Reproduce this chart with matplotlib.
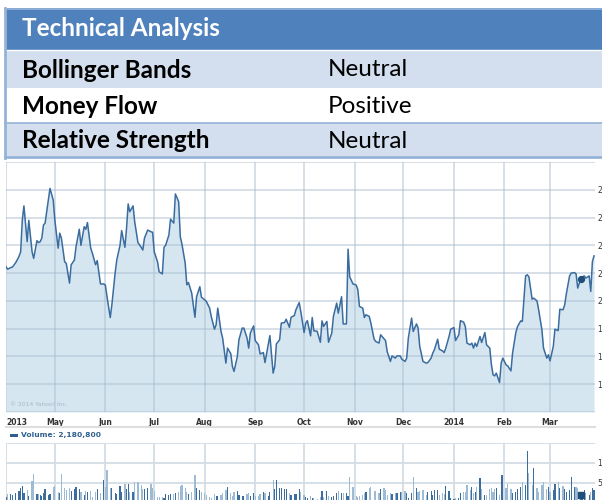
import numpy as np
import pandas as pd
import matplotlib
matplotlib.use('Agg')
import matplotlib.pyplot as plt
from matplotlib.patches import Rectangle
from matplotlib.lines import Line2D

# --- data ---
table_rows = ['Bollinger Bands', 'Money Flow', 'Relative Strength']
table_vals = ['Neutral', 'Positive', 'Neutral']

start = pd.Timestamp('2013-04-01')
end = start + pd.Timedelta(days=361.6)

# days since 2013-04-01 for each close
days = [0, 1, 3, 4, 6, 8, 9, 10, 11, 13,
        14, 16, 17, 19, 20, 21, 22, 23, 24, 26,
        27, 29, 30, 32, 33, 34, 36, 37, 39, 40,
        42, 43, 45, 46, 48, 49, 50, 52, 53, 55,
        56, 58, 60, 61, 62, 64, 65, 67, 68, 70,
        71, 73, 74, 75, 76, 78, 79, 81, 83, 84,
        85, 87, 89, 90, 91, 93, 94, 96, 97, 98,
        100, 101, 103, 104, 106, 107, 108, 110, 111, 112,
        114, 116, 117, 119, 120, 122, 123, 125, 126, 128,
        129, 130, 132, 133, 135, 136, 138, 139, 140, 142,
        143, 145, 146, 148, 149, 150, 152, 153, 155, 156,
        158, 159, 161, 162, 164, 165, 166, 168, 169, 171,
        172, 174, 175, 177, 178, 180, 181, 183, 184, 185,
        187, 188, 189, 191, 193, 194, 195, 197, 198, 200,
        201, 203, 204, 206, 207, 209, 210, 211, 213, 215,
        216, 217, 219, 220, 221, 223, 224, 226, 227, 229,
        230, 232, 233, 234, 236, 237, 239, 240, 242, 243,
        245, 246, 247, 249, 250, 252, 253, 254, 256, 258,
        259, 261, 262, 263, 265, 266, 268, 269, 270, 272,
        273, 275, 276, 278, 279, 281, 282, 283, 285, 286,
        287, 288, 289, 291, 292, 294, 295, 297, 298, 299,
        300, 301, 303, 304, 305, 307, 308, 310, 311, 313,
        314, 316, 317, 319, 320, 321, 323, 324, 326, 327,
        329, 330, 332, 333, 334, 336, 337, 339, 340, 342,
        343, 344, 346, 347, 349, 350, 351, 353, 354, 355,
        356, 358, 359, 360, 361]

prices = [21.23, 21.14, 21.20, 21.22, 21.38, 21.60, 21.77, 22.90, 23.42, 22.13,
          22.90, 21.77, 21.53, 22.17, 22.10, 22.13, 22.26, 22.73, 22.80, 23.63,
          24.05, 23.63, 22.90, 21.90, 22.44, 22.26, 21.41, 21.35, 20.64, 21.30,
          21.47, 21.95, 22.58, 22.00, 22.67, 22.58, 22.82, 21.90, 21.72, 21.30,
          21.45, 20.61, 20.61, 20.57, 20.15, 19.40, 19.86, 21.00, 21.47, 22.00,
          22.53, 21.93, 22.61, 23.49, 23.21, 23.42, 22.85, 22.10, 21.93, 21.83,
          22.26, 22.55, 22.49, 22.47, 21.77, 21.41, 21.05, 20.97, 21.93, 22.00,
          22.37, 22.94, 22.80, 23.85, 23.57, 22.31, 22.05, 21.36, 20.58, 20.66,
          20.28, 19.41, 20.15, 20.51, 20.13, 20.04, 19.98, 19.74, 19.44, 18.98,
          19.14, 19.74, 18.90, 18.66, 17.76, 18.30, 18.10, 17.64, 17.46, 17.99,
          18.60, 19.02, 19.02, 18.66, 18.30, 18.84, 19.10, 18.57, 18.42, 18.09,
          18.14, 17.78, 18.42, 18.75, 17.40, 17.64, 18.45, 18.60, 19.20, 19.22,
          19.34, 19.05, 19.41, 19.47, 19.68, 19.94, 19.61, 18.86, 19.20, 19.29,
          18.74, 19.40, 18.92, 18.91, 18.51, 19.28, 19.08, 19.26, 18.51, 18.84,
          19.44, 19.92, 19.56, 20.15, 19.17, 19.17, 21.86, 20.87, 20.61, 20.57,
          20.40, 19.80, 19.74, 19.40, 19.50, 19.44, 19.20, 18.62, 18.54, 18.48,
          18.78, 18.64, 18.57, 18.18, 17.82, 18.02, 17.94, 18.02, 18.02, 17.90,
          17.82, 17.94, 18.66, 19.38, 18.90, 19.17, 19.02, 18.36, 17.82, 17.76,
          17.78, 17.94, 18.12, 18.24, 18.62, 18.26, 18.20, 18.14, 18.30, 18.72,
          18.98, 19.04, 18.57, 18.78, 19.29, 19.23, 19.07, 18.48, 18.42, 18.48,
          18.30, 18.48, 18.36, 18.72, 18.50, 18.86, 18.42, 18.30, 17.70, 17.34,
          17.30, 17.40, 17.06, 17.76, 17.94, 17.70, 17.66, 17.48, 18.12, 18.86,
          19.07, 19.28, 19.26, 20.90, 20.94, 20.87, 20.06, 20.10, 20.00, 19.68,
          18.96, 18.30, 17.94, 18.06, 17.84, 18.36, 18.98, 18.93, 19.70, 19.68,
          19.86, 20.25, 20.90, 21.00, 21.02, 20.97, 20.46, 20.82, 20.87, 20.90,
          20.82, 20.90, 20.34, 21.41, 21.62]

# volume in millions, one per close
volumes = [1.58, 2.17, 2.17, 2.0, 2.42, 3.0, 3.67, 4.33, 2.42, 3.25,
           1.83, 5.5, 7.17, 2.17, 2.17, 2.0, 1.83, 2.42, 3.5, 2.0,
           2.17, 4.08, 4.25, 2.83, 2.42, 7.25, 3.67, 3.25, 3.83, 3.0,
           3.5, 4.0, 3.5, 2.83, 2.0, 3.0, 2.83, 3.0, 1.58, 2.83,
           3.5, 2.42, 5.75, 4.0, 8.25, 3.67, 3.67, 2.42, 2.17, 4.33,
           2.67, 4.67, 3.5, 4.67, 2.83, 2.67, 5.33, 5.17, 4.5, 3.5,
           3.5, 3.67, 4.83, 3.67, 3.0, 1.58, 1.58, 1.5, 1.33, 2.17,
           2.0, 2.17, 2.17, 2.42, 2.83, 4.33, 4.5, 3.67, 2.83, 2.17,
           2.67, 7.0, 3.67, 3.25, 2.83, 2.42, 2.0, 1.58, 1.17, 2.17,
           1.83, 1.75, 2.0, 2.42, 3.25, 3.92, 2.42, 1.83, 2.83, 3.0,
           2.0, 1.83, 1.83, 2.17, 2.58, 1.83, 2.42, 1.67, 1.83, 2.17,
           2.83, 2.42, 1.83, 2.67, 5.75, 3.5, 5.75, 3.83, 3.67, 3.5,
           3.5, 2.42, 2.0, 2.17, 2.33, 3.5,
           2.83, 2.0, 1.58, 1.33, 1.83, 1.33, 1.17, 1.0, 1.5, 3.0, 1.58,
           3.0, 1.83, 1.58, 1.83, 2.42, 3.0, 2.42, 2.42, 2.42, 1.83,
           6.42, 4.08, 1.83, 1.58, 1.83, 2.0, 2.58, 2.83, 3.67, 3.92,
           3.0, 3.0, 2.58, 3.5, 3.67, 3.25, 2.0, 2.42, 2.25, 2.42,
           2.42, 2.83, 2.67, 3.0, 2.42, 1.17, 2.42, 6.58, 3.67, 2.83,
           3.0, 3.25, 2.0, 2.83, 3.0, 2.0, 3.25, 3.25, 2.0, 2.42, 2.2,
           4.33, 3.0, 1.17, 1.0, 1.17, 1.33, 2.42, 2.83, 2.67, 4.5,
           3.25, 4.08, 2.42, 2.83, 4.08, 6.33, 3.5, 2.0, 2.0, 3.5,
           3.83, 2.83, 3.5, 3.83, 2.0, 7.0, 7.0, 3.83, 4.67, 3.5,
           2.58, 2.83, 3.5, 4.08, 5.17, 4.5, 13.0, 7.42, 4.5, 8.67,
           3.67, 2.83, 4.5, 5.33, 3.5, 4.08, 2.83, 3.25, 4.67, 5.17,
           3.83, 4.33, 3.5, 2.83, 3.25, 6.58, 4.08, 4.08, 3.83, 2.83,
           2.42, 3.25, 2.42, 2.0, 2.83, 3.67, 3.25]

month_ticks = ['2013-04-01', '2013-05-01', '2013-06-01', '2013-07-01', '2013-08-01',
               '2013-09-01', '2013-10-01', '2013-11-01', '2013-12-01', '2014-01-01',
               '2014-02-01', '2014-03-01']
month_labels = ['2013', 'May', 'Jun', 'Jul', 'Aug', 'Sep', 'Oct', 'Nov', 'Dec',
                '2014', 'Feb', 'Mar']
event_day = 353
event_price = 20.80

price_ticks = [16, 17, 18, 19, 20, 21, 22, 23, 24, 25]
vol_ticks = [0, 5, 10, 15]
vol_labels = ['', '5M', '10M', '']

dates = start + pd.to_timedelta(days, unit='D')
month_dates = pd.to_datetime(month_ticks)

W, H = 602, 500
fig = plt.figure(figsize=(6.02, 5.0), dpi=100)


def fx(px):
    return px / W


def fy(py):
    return 1 - py / H


# --- table on top ---
hdr = '#4F81BD'
alt = '#D3DFEE'
border = '#95B3D7'
fig.add_artist(Rectangle((fx(5), fy(50)), fx(597), 42 / H, color=hdr, lw=0))
row_edges = [50, 88, 123, 157]
row_fill = [alt, 'white', alt]
for i in range(3):
    top, bot = row_edges[i], row_edges[i + 1]
    fig.add_artist(Rectangle((fx(5), fy(bot)), fx(597), (bot - top) / H,
                             color=row_fill[i], lw=0))
    fig.text(fx(22), fy((top + bot) / 2 + 1), table_rows[i], fontsize=17.5,
             fontweight='bold', family='Lato', va='center', color='black')
    fig.text(fx(328), fy((top + bot) / 2 + 1), table_vals[i], fontsize=17.5,
             family='Lato', va='center', color='black')
fig.text(fx(22), fy(29), 'Technical Analysis', fontsize=17.5, fontweight='bold',
         family='Lato', va='center', color='white')
fig.add_artist(Line2D([fx(5), 1], [fy(50), fy(50)], color='white', lw=1))
fig.add_artist(Line2D([fx(5), 1], [fy(123), fy(123)], color=border, lw=1.2))
fig.add_artist(Line2D([fx(5), 1], [fy(157), fy(157)], color=border, lw=2))
fig.add_artist(Line2D([fx(5), fx(5)], [fy(8), fy(158)], color=border, lw=2))
fig.add_artist(Line2D([fx(5), 1], [fy(8.5), fy(8.5)], color=border, lw=1.2))

# --- price chart ---
grid_c = '#d3dce5'
line_c = '#3a6c9f'
fill_c = '#d6e6f1'
tick_c = '#333333'

ax = fig.add_axes([fx(6), fy(412), (595 - 6) / W, 250 / H])
ax.fill_between(dates, prices, 16, color=fill_c, lw=0, zorder=1)
ax.plot(dates, prices, color=line_c, lw=1.1, zorder=3)
ax.scatter([start + pd.Timedelta(days=event_day)], [event_price], s=18,
           color='#1f4e79', zorder=4)
ax.set_xlim(start, end)
ax.set_ylim(16, 25)
ax.set_xticks(month_dates)
ax.set_xticklabels(month_labels)
ax.set_yticks(price_ticks)
ax.set_yticklabels(['' if t in (16, 25) else str(t) for t in price_ticks])
ax.yaxis.tick_right()
ax.tick_params(length=0, labelsize=5.5, labelcolor=tick_c, pad=1.5)
ax.tick_params(axis='x', pad=4)
for lbl in ax.get_xticklabels():
    lbl.set_fontweight('bold')
ax.get_xticklabels()[0].set_ha('left')
ax.grid(True, color='#a9bccd', alpha=0.5, lw=1.3, zorder=2)
ax.set_axisbelow(False)
for s in ax.spines.values():
    s.set_visible(False)
ax.text(0.007, 0.025, '\u00a9 2014 Yahoo! Inc.', transform=ax.transAxes,
        fontsize=4.3, color='#a8b6c3', zorder=5)

fig.add_artist(Line2D([fx(6), fx(595)], [fy(427), fy(427)], color='#dedede', lw=1.5))

# --- volume panel ---
vol_dark = '#3d6d9d'
vol_light = '#9dbbd5'
change = np.diff(prices, prepend=prices[0])
bar_colors = [vol_dark if c >= 0 else vol_light for c in change]

axv = fig.add_axes([fx(6), fy(503), (595 - 6) / W, 60 / H])
axv.bar(dates, volumes, width=0.75, color=bar_colors, zorder=3)
axv.scatter([start + pd.Timedelta(days=event_day)], [1.9], marker='s', s=14,
            color='#1f4e79', zorder=4)
axv.set_xlim(start, end)
axv.set_ylim(0, 15)
axv.set_xticks(month_dates)
axv.set_xticklabels([])
axv.set_yticks(vol_ticks)
axv.set_yticklabels(vol_labels)
axv.yaxis.tick_right()
axv.tick_params(length=0, labelsize=5.5, labelcolor=tick_c, pad=1.5)
axv.grid(True, color=grid_c, lw=1.3, zorder=1)
for s in axv.spines.values():
    s.set_visible(False)

fig.add_artist(Rectangle((fx(10), fy(437)), 8 / W, 3.5 / H, color='#2f5f8f', lw=0))
fig.text(fx(21), fy(435.5), 'Volume: 2,180,800', fontsize=5.4, fontweight='bold',
         color='#2f5f8f', va='center')

fig.savefig('out.png', dpi=100)
